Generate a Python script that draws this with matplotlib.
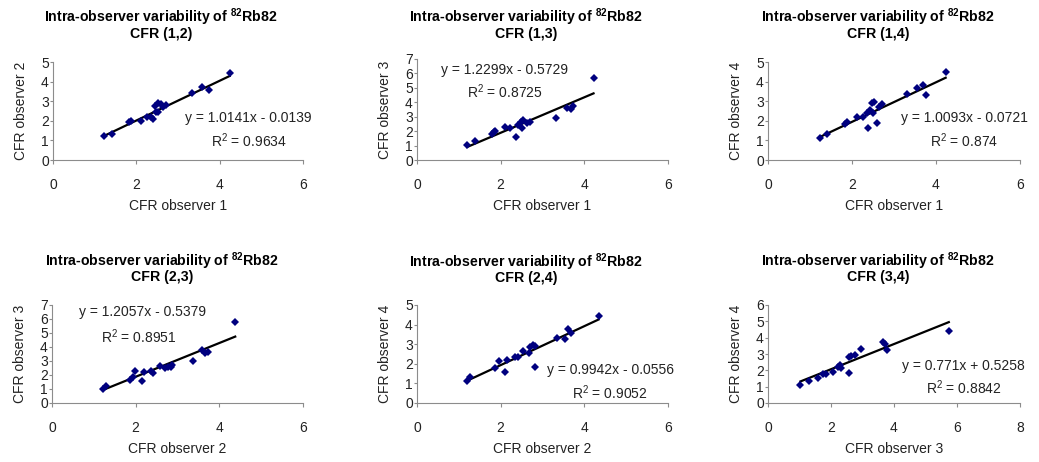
import matplotlib
matplotlib.use('Agg')
import matplotlib.pyplot as plt
import numpy as np

plt.rcParams['font.family'] = ['Liberation Sans', 'DejaVu Sans']
plt.rcParams['mathtext.fontset'] = 'custom'
plt.rcParams['mathtext.rm'] = 'Liberation Sans'
plt.rcParams['mathtext.bf'] = 'Liberation Sans:bold'
plt.rcParams['mathtext.it'] = 'Liberation Sans:italic'

# ---------------- data ----------------
pairs = ["(1,2)", "(1,3)", "(1,4)", "(2,3)", "(2,4)", "(3,4)"]
x_labels = ["CFR observer 1", "CFR observer 1", "CFR observer 1",
            "CFR observer 2", "CFR observer 2", "CFR observer 3"]
y_labels = ["CFR observer 2", "CFR observer 3", "CFR observer 4",
            "CFR observer 3", "CFR observer 4", "CFR observer 4"]

p12_x = [1.22, 1.41, 1.83, 1.86, 2.11, 2.26, 2.35, 2.39, 2.45, 2.47, 2.51, 2.53, 2.58, 2.65, 2.71, 3.33, 3.57, 3.74, 4.24]
p12_y = [1.22, 1.33, 1.94, 2.00, 2.00, 2.21, 2.18, 2.11, 2.76, 2.45, 2.46, 2.89, 2.86, 2.72, 2.79, 3.40, 3.74, 3.57, 4.42]

p13_x = [1.20, 1.39, 1.79, 1.83, 1.87, 2.11, 2.22, 2.36, 2.42, 2.48, 2.50, 2.53, 2.62, 2.70, 3.33, 3.58, 3.68, 3.74, 4.22]
p13_y = [1.02, 1.32, 1.80, 1.96, 2.03, 2.31, 2.19, 1.57, 2.43, 2.66, 2.19, 2.77, 2.59, 2.66, 2.92, 3.62, 3.55, 3.72, 5.70]

p14_x = [1.24, 1.40, 1.83, 1.87, 2.13, 2.27, 2.39, 2.35, 2.43, 2.47, 2.52, 2.51, 2.60, 2.65, 2.71, 3.32, 3.55, 3.70, 3.75, 4.23]
p14_y = [1.14, 1.33, 1.84, 1.96, 2.21, 2.21, 1.61, 2.41, 2.55, 2.93, 2.98, 2.38, 1.90, 2.72, 2.86, 3.35, 3.69, 3.83, 3.32, 4.49]

p23_x = [1.21, 1.29, 1.87, 1.93, 1.98, 2.15, 2.19, 2.36, 2.42, 2.58, 2.70, 2.78, 2.84, 2.86, 3.38, 3.58, 3.66, 3.72, 4.38]
p23_y = [0.98, 1.21, 1.64, 1.84, 2.31, 1.59, 2.24, 2.31, 2.16, 2.64, 2.48, 2.55, 2.59, 2.71, 2.98, 3.79, 3.59, 3.66, 5.76]

p24_x = [1.19, 1.27, 1.87, 1.97, 2.11, 2.15, 2.34, 2.42, 2.54, 2.68, 2.70, 2.78, 2.82, 2.81, 3.34, 3.54, 3.62, 3.68, 4.34]
p24_y = [1.12, 1.34, 1.77, 2.16, 1.60, 2.19, 2.36, 2.33, 2.67, 2.54, 2.84, 2.96, 2.91, 1.85, 3.30, 3.25, 3.76, 3.59, 4.45]

p34_x = [1.03, 1.29, 1.59, 1.75, 1.84, 2.05, 2.23, 2.28, 2.33, 2.57, 2.57, 2.65, 2.75, 2.96, 3.65, 3.70, 3.78, 5.74]
p34_y = [1.10, 1.35, 1.51, 1.78, 1.78, 1.92, 2.22, 2.33, 2.12, 1.82, 2.80, 2.88, 2.94, 3.29, 3.75, 3.61, 3.24, 4.43]

slopes = [1.0141, 1.2299, 1.0093, 1.2057, 0.9942, 0.771]
intercepts = [-0.0139, -0.5729, -0.0721, -0.5379, -0.0556, 0.5258]
eq_texts = ["y = 1.0141x - 0.0139", "y = 1.2299x - 0.5729", "y = 1.0093x - 0.0721",
            "y = 1.2057x - 0.5379", "y = 0.9942x - 0.0556", "y = 0.771x + 0.5258"]
r2_texts = ["0.9634", "0.8725", "0.874", "0.8951", "0.9052", "0.8842"]

x_maxes = [6, 6, 6, 6, 6, 8]
y_maxes = [5, 7, 5, 7, 5, 6]

xs = [p12_x, p13_x, p14_x, p23_x, p24_x, p34_x]
ys = [p12_y, p13_y, p14_y, p23_y, p24_y, p34_y]

# ---------------- layout (pixels) ----------------
W, H = 1039, 462
boxes = [(53, 303, 62, 160), (417, 668, 59, 160), (768, 1020, 62, 160),
         (52, 303, 305, 403), (417, 668, 305, 403), (768, 1020, 305, 403)]
title_x = [161, 526, 878, 162, 526, 878]
title_y1 = [17, 17, 17, 261, 262, 261]
title_y2 = [34, 34, 34, 277, 278, 277]
eq_pos = [(0.78, 0.43), (0.347, 0.89), (0.78, 0.425), (0.36, 0.93), (0.77, 0.34), (0.775, 0.38)]
r2_pos = [(0.785, 0.20), (0.35, 0.676), (0.78, 0.20), (0.347, 0.68), (0.77, 0.10), (0.776, 0.16)]

fig = plt.figure(figsize=(W / 100, H / 100), dpi=100)
axis_col = '#8c8c8c'
fs = 10
tfs = 10.2

for i in range(6):
    l, r, t, b = boxes[i]
    ax = fig.add_axes([l / W, 1 - b / H, (r - l) / W, (b - t) / H])
    ax.set_xlim(0, x_maxes[i])
    ax.set_ylim(0, y_maxes[i])
    ax.set_xticks(np.arange(0, x_maxes[i] + 1, 2))
    ax.set_yticks(np.arange(0, y_maxes[i] + 1, 1))
    for s in ['top', 'right']:
        ax.spines[s].set_visible(False)
    for s in ['left', 'bottom']:
        ax.spines[s].set_color(axis_col)
        ax.spines[s].set_linewidth(0.8)
    ax.tick_params(axis='x', direction='out', length=3, width=0.8, color=axis_col,
                   pad=10, labelsize=fs, labelcolor='#222222')
    ax.tick_params(axis='y', direction='out', length=2, width=0.8, color=axis_col,
                   pad=1, labelsize=fs, labelcolor='#222222')
    ax.set_xlabel(x_labels[i], fontsize=fs, labelpad=5, color='#222222')
    ax.set_ylabel(y_labels[i], fontsize=fs, labelpad=9, color='#222222')

    x = np.array(xs[i])
    y = np.array(ys[i])
    xl = np.array([x.min(), x.max()])
    ax.plot(xl, slopes[i] * xl + intercepts[i], color='black', lw=1.6, zorder=2)
    ax.plot(x, y, linestyle='none', marker='D', markersize=3.9, color='#00007f',
            markeredgewidth=0, zorder=3, clip_on=False)

    ax.text(eq_pos[i][0], eq_pos[i][1], eq_texts[i], transform=ax.transAxes,
            ha='center', va='center', fontsize=fs, color='#222222')
    ax.text(r2_pos[i][0], r2_pos[i][1], r'R$^2$ = ' + r2_texts[i], transform=ax.transAxes,
            ha='center', va='center', fontsize=fs, color='#222222')

    fig.text(title_x[i] / W, 1 - title_y1[i] / H,
             r'Intra-observer variability of $\mathbf{^{82}}$Rb82',
             ha='center', va='center', fontsize=tfs, fontweight='bold')
    fig.text(title_x[i] / W, 1 - title_y2[i] / H, 'CFR ' + pairs[i],
             ha='center', va='center', fontsize=tfs, fontweight='bold')

fig.savefig('out.png', dpi=100)
